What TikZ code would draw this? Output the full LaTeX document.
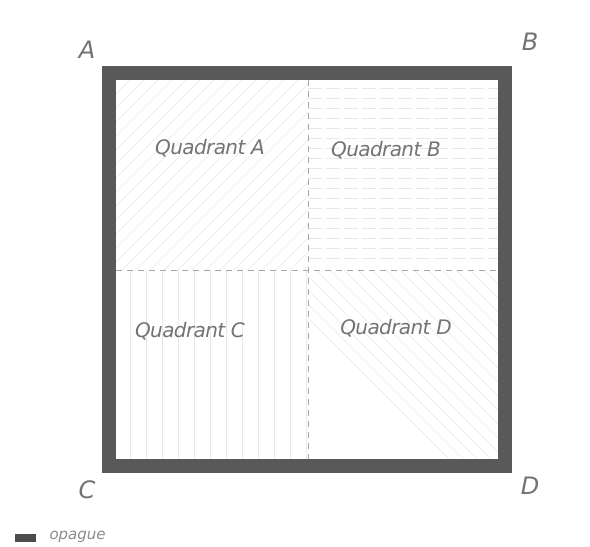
\documentclass[tikz,border=0pt]{standalone}
\usepackage{fontspec}
\setmainfont{DejaVu Sans}
\begin{document}
\begin{tikzpicture}[x=1pt,y=-1pt,
  hatch/.style={draw=black!9,line width=0.5pt},
  divider/.style={draw=black!35,dashed,dash pattern=on 6pt off 5pt,line width=0.6pt},
  frame/.style={draw=black!65,line width=14pt},
  qlabel/.style={font=\fontsize{20}{22}\selectfont\itshape\addfontfeatures{LetterSpace=-3},text=black!55},
  corner/.style={font=\fontsize{24}{26}\selectfont\itshape,text=black!55},
  legendtext/.style={font=\fontsize{15}{17}\selectfont\itshape,text=black!45,anchor=west}]
\useasboundingbox (0,0) rectangle (590,547);
\fill[white] (0,0) rectangle (590,547);
% inner corners
\coordinate (MT) at (308,80);
\coordinate (MB) at (308,460);
\coordinate (ML) at (116,270);
\coordinate (MR) at (498,270);
% Quadrant A hatching (/)
\begin{scope}
\clip (116,80) rectangle (308,270);
\foreach \k in {0,14,...,400} {\draw[hatch] (116+\k,80) -- (116+\k-200,280);}
\end{scope}
% Quadrant B hatching (horizontal)
\begin{scope}
\clip (308,80) rectangle (498,270);
\foreach \y in {88,98,...,266} {\draw[hatch,dash pattern=on 14pt off 4pt] (308,\y) -- (498,\y);}
\end{scope}
% Quadrant C hatching (vertical)
\begin{scope}
\clip (116,270) rectangle (308,460);
\foreach \x in {130,146,...,306} {\draw[hatch] (\x,270) -- (\x,460);}
\end{scope}
% Quadrant D hatching (\), right part
\begin{scope}
\clip (308,270) rectangle (498,460);
\foreach \k in {0,14,...,240} {\draw[hatch] (498-\k,270) -- (498-\k+200,470);}
\end{scope}
% dividers
\draw[divider] (MT) -- (MB);
\draw[divider] (ML) -- (MR);
% frame
\draw[frame] (109,73) rectangle (505,466);
% labels
\node[qlabel] (qa) at (210,148) {Quadrant A};
\node[qlabel] (qb) at (386,150) {Quadrant B};
\node[qlabel] (qc) at (190,331) {Quadrant C};
\node[qlabel] (qd) at (396,328) {Quadrant D};
\node[corner] (ca) at (87,50) {A};
\node[corner] (cb) at (530,42) {B};
\node[corner] (cc) at (87,490) {C};
\node[corner] (cd) at (530,486) {D};
% legend
\node[fill=black!70,minimum width=21pt,minimum height=8pt,inner sep=0pt] (leg) at (25,538) {};
\node[legendtext] (legt) at (46,537) {opague};
\end{tikzpicture}
\end{document}
